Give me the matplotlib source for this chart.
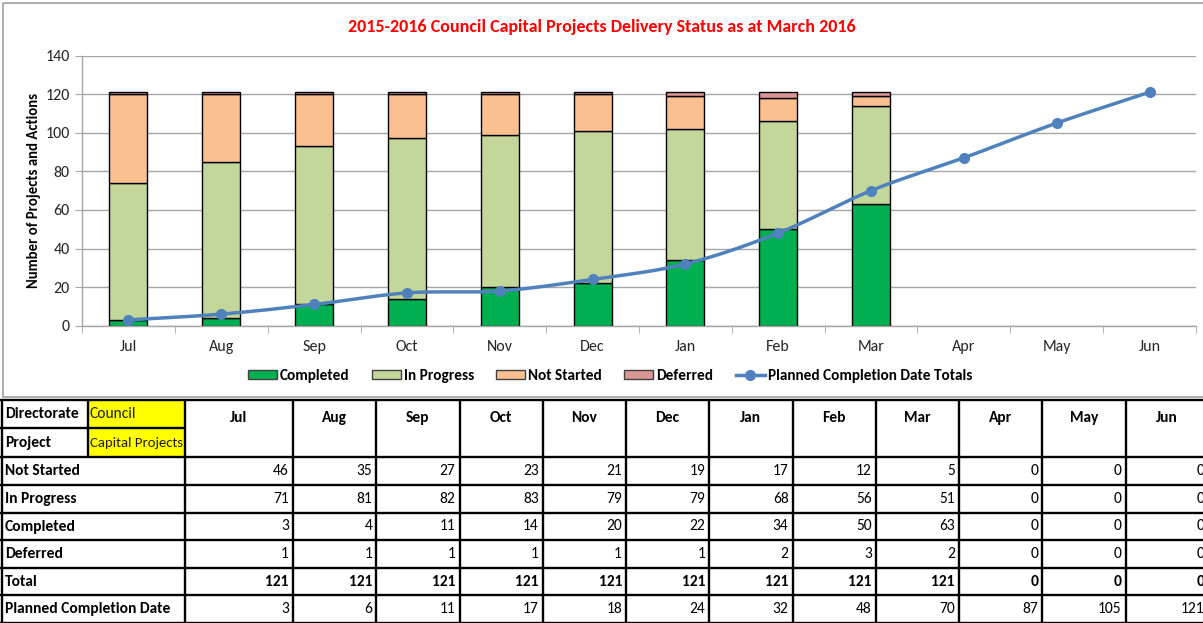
import numpy as np
import matplotlib
matplotlib.use("Agg")
import matplotlib.pyplot as plt
from matplotlib import font_manager as fm
from matplotlib.patches import Rectangle
from matplotlib.lines import Line2D

# ---- data ----
months = ["Jul", "Aug", "Sep", "Oct", "Nov", "Dec", "Jan", "Feb", "Mar", "Apr", "May", "Jun"]
not_started = [46, 35, 27, 23, 21, 19, 17, 12, 5, 0, 0, 0]
in_progress = [71, 81, 82, 83, 79, 79, 68, 56, 51, 0, 0, 0]
completed = [3, 4, 11, 14, 20, 22, 34, 50, 63, 0, 0, 0]
deferred = [1, 1, 1, 1, 1, 1, 2, 3, 2, 0, 0, 0]
planned = [3, 6, 11, 17, 18, 24, 32, 48, 70, 87, 105, 121]

title = "2015-2016 Council Capital Projects Delivery Status as at March 2016"

# ---- fonts ----
installed = {f.name for f in fm.fontManager.ttflist}
chart_font = next((f for f in ["Carlito", "Lato", "Open Sans"] if f in installed), "DejaVu Sans")
table_font = next((f for f in ["Liberation Sans Narrow", "Carlito", "Roboto"] if f in installed), "DejaVu Sans")
plt.rcParams["font.family"] = [chart_font, "DejaVu Sans"]

W, H = 1203, 623
fig = plt.figure(figsize=(W / 100, H / 100), dpi=100)


def fx(px):
    return px / W


def fy(py):
    return 1 - py / H


# ---- chart ----
ax = fig.add_axes([fx(82), fy(325.7), fx(1196 - 82), fy(55.5) - fy(325.7)])
x = np.arange(len(months))
colors = {"Completed": "#00B050", "In Progress": "#C4D79B",
          "Not Started": "#FAC090", "Deferred": "#DA9694"}
series = [("Completed", completed), ("In Progress", in_progress),
          ("Not Started", not_started), ("Deferred", deferred)]
bottom = np.zeros(len(months))
bar_w = 0.41
for name, vals in series:
    vals = np.array(vals, dtype=float)
    edge = ["black" if v > 0 else "none" for v in vals]
    ax.bar(x, vals, bar_w, bottom=bottom, color=colors[name], edgecolor=edge,
           linewidth=1.0, zorder=2, label=name)
    bottom += vals


# smooth curve through the planned totals (Catmull-Rom)
def catmull_rom(xs, ys, n=30):
    xs = np.asarray(xs, float)
    ys = np.asarray(ys, float)
    px = np.concatenate([[2 * xs[0] - xs[1]], xs, [2 * xs[-1] - xs[-2]]])
    py = np.concatenate([[2 * ys[0] - ys[1]], ys, [2 * ys[-1] - ys[-2]]])
    out_x, out_y = [], []
    for i in range(1, len(px) - 2):
        t = np.linspace(0, 1, n, endpoint=False)
        for arr, out in ((px, out_x), (py, out_y)):
            p0, p1, p2, p3 = arr[i - 1], arr[i], arr[i + 1], arr[i + 2]
            out.extend(0.5 * ((2 * p1) + (-p0 + p2) * t
                              + (2 * p0 - 5 * p1 + 4 * p2 - p3) * t ** 2
                              + (-p0 + 3 * p1 - 3 * p2 + p3) * t ** 3))
    out_x.append(xs[-1])
    out_y.append(ys[-1])
    return np.array(out_x), np.array(out_y)


sx, sy = catmull_rom(x, planned)
line_c = "#4F81BD"
ax.plot(sx, sy, color=line_c, lw=2.5, zorder=4, solid_capstyle="round")
ax.plot(x, planned, "o", color=line_c, ms=7, zorder=5)

ax.set_xlim(-0.5, len(months) - 0.5)
ax.set_ylim(0, 140)
ax.set_yticks(range(0, 141, 20))
ax.set_xticks(x)
ax.set_xticklabels(months)
ax.set_xticks(np.arange(-0.5, len(months), 1), minor=True)
ax.yaxis.grid(True, color="#A6A6A6", lw=1.0, zorder=0)
ax.set_axisbelow(True)
for s in ["top", "right"]:
    ax.spines[s].set_visible(False)
for s in ["left", "bottom"]:
    ax.spines[s].set_color("#A6A6A6")
    ax.spines[s].set_linewidth(1.0)
ax.tick_params(axis="x", which="major", length=0, pad=10, labelsize=11.5, labelcolor="#262626")
ax.tick_params(axis="x", which="minor", length=5, color="#A6A6A6")
ax.tick_params(axis="y", length=5, color="#A6A6A6", pad=4, labelsize=11.5, labelcolor="#262626")
ax.set_ylabel("Number of Projects and Actions", fontsize=10.6, fontweight="bold")
ax.yaxis.set_label_coords(fx(41 - 82) / fx(1196 - 82), 0.5)

fig.text(0.5, fy(27), title, color="#FF0000", fontsize=13, fontweight="bold",
         ha="center", va="center")

handles = [Rectangle((0, 0), 1, 1, facecolor=colors[n], edgecolor="#404040", lw=1.0)
           for n, _ in series]
handles.append(Line2D([0], [0], color=line_c, lw=2.5, marker="o", ms=7))
labels = [n for n, _ in series] + ["Planned Completion Date Totals"]
fig.legend(handles, labels, loc="center", bbox_to_anchor=(fx(610), fy(376)), ncol=5,
           frameon=False, handlelength=1.9, handleheight=0.55,
           handletextpad=0.2, columnspacing=1.45, prop={"weight": "bold", "size": 11})

# ---- frame and table drawn in pixel space ----
tab = fig.add_axes([0, 0, 1, 1], zorder=3)
tab.set_xlim(0, W)
tab.set_ylim(H, 0)
tab.axis("off")
tab.patch.set_alpha(0)

tab.add_patch(Rectangle((3, 3), W + 5, 394, fill=False, edgecolor="#A0A0A0", lw=1.2))

# Jul column is wider; Aug..Jun share an equal width
col_edges = [1.5, 88, 185, 293] + [293 + 83.25 * (i + 1) for i in range(11)]
row_edges = [400, 428, 457, 485, 513, 540, 568, 595, 623]
lw_t = 1.7

tab.add_patch(Rectangle((88, 400), 97, 28, facecolor="#FFFF00", edgecolor="none"))
tab.add_patch(Rectangle((88, 428), 97, 29, facecolor="#FFFF00", edgecolor="none"))

for y in row_edges:
    x_end = 185 if y == 428 else W + 5
    tab.plot([0, x_end], [y, y], color="black", lw=lw_t, solid_capstyle="butt")
for xe in col_edges:
    y1 = 457 if xe == 88 else 623
    tab.plot([xe, xe], [400, y1], color="black", lw=lw_t, solid_capstyle="butt")

tfont = [table_font, "DejaVu Sans"]
tsize = 11.2
tab.text(5, 414, "Directorate", family=tfont, fontsize=tsize, fontweight="bold", va="center")
tab.text(5, 443, "Project", family=tfont, fontsize=tsize, fontweight="bold", va="center")
tab.text(90, 414, "Council", family=tfont, fontsize=tsize, va="center", color="#1F1F1F")
tab.text(90, 443, "Capital Projects", family=tfont, fontsize=10.6, va="center", color="#1F1F1F")

for i, m in enumerate(months):
    cx = (col_edges[i + 2] + col_edges[i + 3]) / 2
    tab.text(cx, 418, m, family=tfont, fontsize=tsize, fontweight="bold", ha="center", va="center")

totals = [a + b + c + d for a, b, c, d in zip(not_started, in_progress, completed, deferred)]
rows = [("Not Started", not_started, "normal"), ("In Progress", in_progress, "normal"),
        ("Completed", completed, "normal"), ("Deferred", deferred, "normal"),
        ("Total", totals, "bold"), ("Planned Completion Date", planned, "normal")]
for r, (label, vals, wt) in enumerate(rows):
    cy = (row_edges[r + 2] + row_edges[r + 3]) / 2
    tab.text(5, cy, label, family=tfont, fontsize=tsize, fontweight="bold", va="center")
    for i, v in enumerate(vals):
        tab.text(col_edges[i + 3] - 4, cy, str(v), family=tfont, fontsize=tsize,
                 fontweight=wt, ha="right", va="center")

fig.savefig("out.png", dpi=100)
